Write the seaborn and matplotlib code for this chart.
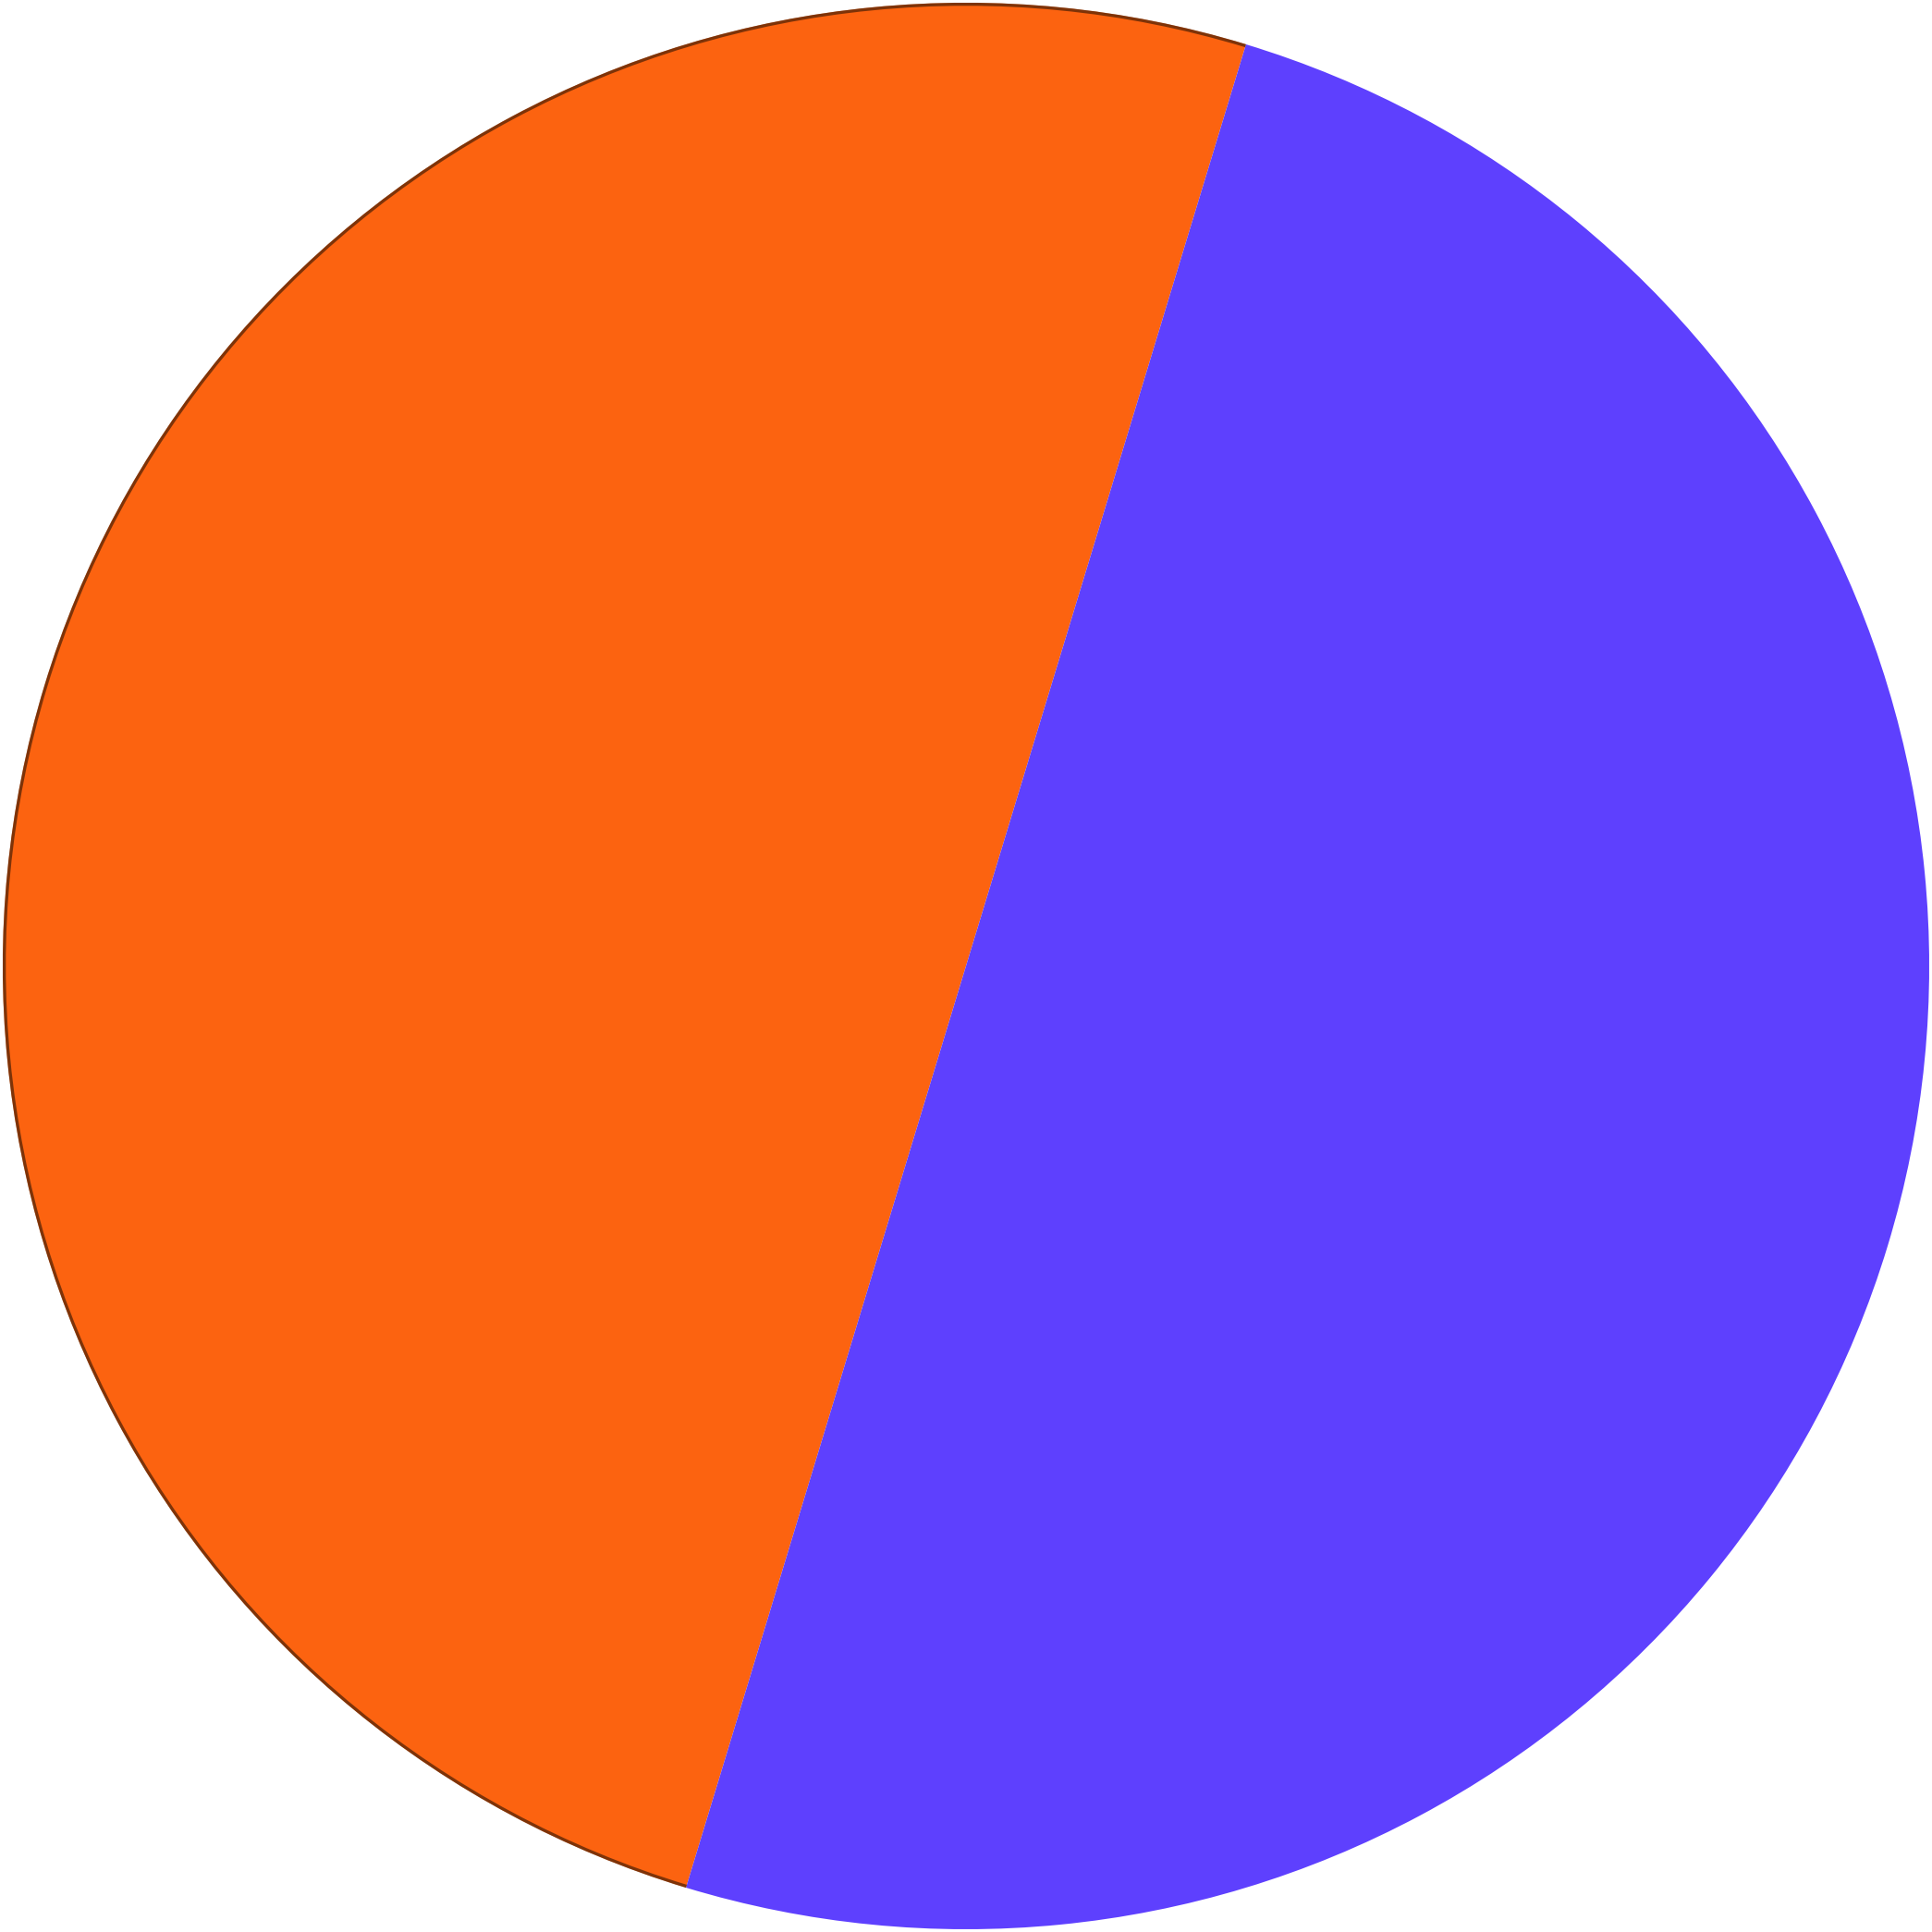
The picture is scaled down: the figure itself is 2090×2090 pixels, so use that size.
import matplotlib
matplotlib.use("Agg")
import matplotlib.pyplot as plt
from matplotlib.patches import Arc
import seaborn as sns

# slice data
labels = ["A", "B"]
values = [50, 50]
colors = ["#FC6310", "#5E40FE"]

sns.set_theme(style="white")
palette = sns.color_palette(colors)

fig = plt.figure(figsize=(10.45, 10.45), dpi=200)
ax = fig.add_axes([0, 0, 1, 1])

start = 73.1
wedges, _ = ax.pie(values, colors=palette, startangle=start, counterclock=True,
                   radius=1.0, wedgeprops=dict(linewidth=0, antialiased=True))

# thin dark rim along the orange slice
span = 360.0 * values[0] / sum(values)
ax.add_patch(Arc((0, 0), 2 * 0.9985, 2 * 0.9985, theta1=start, theta2=start + span,
                 color="#3a1a05", lw=1.2, alpha=0.65))

lim = 1045 / 1042
ax.set_xlim(-lim, lim)
ax.set_ylim(-lim, lim)
ax.set_aspect("equal")
ax.axis("off")

fig.savefig("out.png", dpi=200, facecolor="white")
